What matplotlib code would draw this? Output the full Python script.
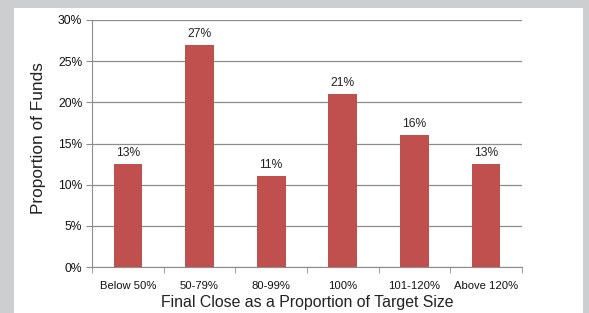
import matplotlib.pyplot as plt
from matplotlib.ticker import FixedLocator, PercentFormatter

plt.rcParams['font.family'] = ['Liberation Sans', 'DejaVu Sans']

categories = ["Below 50%", "50-79%", "80-99%", "100%", "101-120%", "Above 120%"]
proportions = [12.5, 27, 11, 21, 16, 12.5]
bar_labels = ["13%", "27%", "11%", "21%", "16%", "13%"]

fig = plt.figure(figsize=(5.89, 3.13), dpi=100)
fig.patch.set_facecolor("#cdced0")

# white panel behind the chart
panel = fig.add_axes([14 / 589, 0, (583 - 14) / 589, (313 - 8) / 313])
panel.set_facecolor("white")
panel.set_xticks([])
panel.set_yticks([])
for s in panel.spines.values():
    s.set_visible(False)

ax = fig.add_axes([92 / 589, (313 - 267) / 313, (522 - 92) / 589, (267 - 20) / 313])
ax.set_facecolor("none")

x = list(range(len(categories)))
bars = ax.bar(x, proportions, width=0.4, color="#c0504d", zorder=3)
for b, lab in zip(bars, bar_labels):
    ax.text(b.get_x() + b.get_width() / 2, b.get_height() + 0.6, lab,
            ha="center", va="bottom", fontsize=8.7, color="#222222")

ax.set_xlim(-0.5, len(categories) - 0.5)
ax.set_ylim(0, 30)
ax.set_yticks(range(0, 31, 5))
ax.yaxis.set_major_formatter(PercentFormatter(decimals=0))
ax.grid(axis="y", color="#8c8c8c", linewidth=0.9, zorder=1)

ax.set_xticks(x)
ax.set_xticklabels(categories)
ax.xaxis.set_minor_locator(FixedLocator([i - 0.5 for i in range(len(categories) + 1)]))
ax.tick_params(axis="x", which="major", length=0, labelsize=8.1, pad=10, labelcolor="#111111")
ax.tick_params(axis="x", which="minor", length=4, color="#8c8c8c")
ax.tick_params(axis="y", length=4, color="#8c8c8c", labelsize=8.7, pad=3, labelcolor="#111111")

for side in ["top", "right"]:
    ax.spines[side].set_visible(False)
for side in ["left", "bottom"]:
    ax.spines[side].set_color("#8c8c8c")

ax.set_xlabel("Final Close as a Proportion of Target Size", fontsize=11.4,
              labelpad=3, color="#222222")
ax.set_ylabel("Proportion of Funds", fontsize=12.4, color="#222222")
ax.yaxis.set_label_coords(-0.108, 0.52)

fig.savefig("out.png", dpi=100)
